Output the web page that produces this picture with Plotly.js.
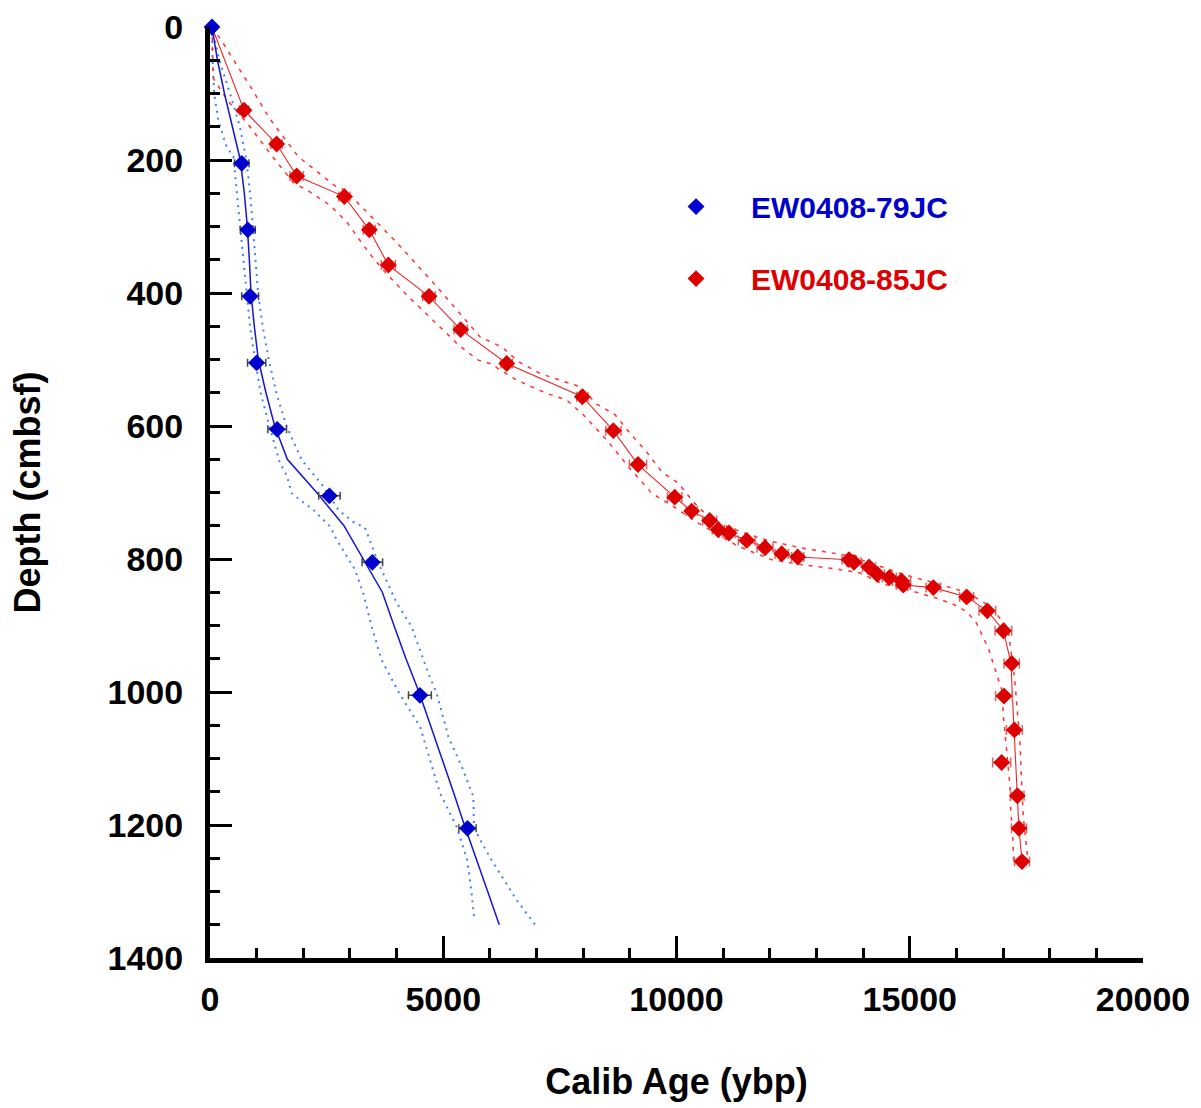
<!DOCTYPE html>
<html>
<head>
<meta charset="utf-8">
<script src="https://cdn.plot.ly/plotly-3.0.1.min.js"></script>
<style>html,body{margin:0;padding:0;background:#fff;}#chart{width:1201px;height:1108px;}</style>
</head>
<body>
<div id="chart"></div>
<script>
// ---- EW0408-79JC (blue) ----
const blueAge   = [43, 680, 810, 860, 1000, 1440, 2560, 3480, 4500, 5520];
const blueDepth = [0, 205, 305, 405, 505, 605, 705, 805, 1005, 1205];
const blueErr   = [30, 155, 160, 180, 195, 200, 230, 220, 245, 185];

const blueModelDepth = [0,50,100,150,200,250,300,350,400,450,500,550,600,650,700,750,800,850,900,950,1000,1050,1100,1150,1200,1250,1300,1350];
const blueModelAge   = [43,160,310,480,650,736,800,843,879,950,1036,1200,1387,1658,2287,2872,3287,3694,3944,4201,4480,4730,4973,5216,5452,5695,5953,6201];

const blueOldDepth = [0,50,100,150,200,250,300,350,400,450,500,550,600,651,691,726,744,753,781,806,866,902,972,1002,1067,1112,1157,1203,1222,1253,1313,1353];
const blueOldAge   = [43,200,430,640,780,860,920,975,1030,1130,1260,1420,1640,1965,2430,2751,3065,3323,3466,3609,4002,4323,4681,4859,5109,5395,5645,5659,5788,6038,6574,7003];

const blueYoungDepth = [0,50,100,140,165,180,195,250,300,350,400,450,500,550,600,656,674,701,711,726,751,771,816,852,902,952,1002,1052,1102,1152,1203,1253,1303,1343];
const blueYoungAge   = [43,55,90,178,286,357,500,575,643,715,786,857,965,1086,1272,1500,1643,1751,1929,2215,2572,2715,3108,3287,3466,3680,4058,4502,4716,4930,5288,5516,5609,5666];

// ---- EW0408-85JC (red) ----
const redAge   = [729,1429,1858,2880,3415,3823,4695,5373,6360,7981,8646,9175,9961,10325,10711,10897,11125,11505,11897,12255,12598,13698,13805,14127,14305,14563,14826,14862,15506,16220,16663,17008,17186,17020,17242,16970,17306,17342,17406];
const redDepth = [125,176,224,255,305,358,405,455,506,556,607,658,707,728,742,756,761,772,783,792,797,801,805,812,823,828,833,839,843,857,878,908,957,1006,1057,1106,1156,1205,1255];
const redErr   = [100,120,143,120,130,150,135,143,120,120,164,185,153,120,150,130,130,179,171,140,130,150,150,140,150,150,193,150,157,150,179,179,164,179,171,193,143,161,161];

const redModelAge   = [43,729,1429,1858,2880,3415,3823,4695,5373,6360,7981,8646,9175,9961,10325,10711,10897,11125,11505,11897,12255,12598,13698,13805,14127,14305,14563,14826,14862,15506,16220,16663,17006,17170,17200,17235,17263,17292,17342,17413];
const redModelDepth = [0,125,176,224,255,305,358,405,455,506,556,607,658,707,728,742,756,761,772,783,792,797,801,805,812,823,828,833,839,843,857,878,907,957,1006,1057,1106,1157,1207,1258];

const redOldAge   = [43,214,915,1271,1893,2680,2894,3215,4002,4930,5788,6253,6609,7074,7931,8289,8682,9003,9361,9683,10039,10360,10718,11147,11576,12004,12647,13698,14148,14898,15541,16249,16720,17106,17256,17292,17363,17399,17434,17507,17535];
const redOldDepth = [0,17,95,137,195,239,245,268,324,396,466,481,503,521,541,567,583,611,639,669,686,714,739,753,764,773,783,795,806,824,836,851,871,904,985,1017,1077,1137,1188,1235,1255];

const redYoungAge   = [43,71,371,857,1286,1786,2144,2572,2930,3359,3681,4216,4930,5323,5751,6002,6574,7217,7646,8002,8504,9003,9468,9931,10467,11325,12041,12647,13434,13939,14399,15042,15578,15934,16222,16435,16684,16791,16972,17005,17042,17112,17149,17164,17207,17220,17230];
const redYoungDepth = [0,77,110,150,190,234,248,268,293,335,363,403,451,478,501,506,531,551,561,583,621,664,701,721,746,781,801,808,815,821,837,848,859,868,879,897,934,957,997,1034,1062,1112,1142,1177,1212,1242,1255];

const seriesNames = ['EW0408-79JC', 'EW0408-85JC'];
const xTicks = [0, 5000, 10000, 15000, 20000];
const yTicks = [0, 200, 400, 600, 800, 1000, 1200, 1400];

const FONT = '"Liberation Sans", Arial, Helvetica, sans-serif';
const BLUE = '#0000cc', RED = '#dd0000';

function line(x, y, color, width, dash) {
  return {x: x, y: y, type: 'scatter', mode: 'lines', showlegend: false, hoverinfo: 'skip',
          line: {color: color, width: width, dash: dash}, cliponaxis: false};
}

const traces = [
  line(blueOldAge, blueOldDepth, '#3f7fff', 2, '2px,5px'),
  line(blueYoungAge, blueYoungDepth, '#3f7fff', 2, '2px,5px'),
  line(redOldAge, redOldDepth, '#ff3333', 1.5, '4px,6px'),
  line(redYoungAge, redYoungDepth, '#ff3333', 1.5, '4px,6px'),
  line(blueModelAge, blueModelDepth, '#1515d0', 1.5, 'solid'),
  line(redModelAge, redModelDepth, '#e52828', 1.1, 'solid'),
  {x: redAge, y: redDepth, type: 'scatter', mode: 'markers', name: '<span style="color:' + RED + '">' + seriesNames[1] + '</span>',
   legendgroup: 'b', legendrank: 2, cliponaxis: false,
   marker: {symbol: 'diamond', size: 13, color: RED, line: {width: 0}},
   error_x: {type: 'data', array: redErr, visible: true, color: '#e86060', thickness: 1.5, width: 5}},
  {x: blueAge, y: blueDepth, type: 'scatter', mode: 'markers', name: '<span style="color:' + BLUE + '">' + seriesNames[0] + '</span>',
   legendgroup: 'a', legendrank: 1, cliponaxis: false,
   marker: {symbol: 'diamond', size: 13, color: BLUE, line: {width: 0}},
   error_x: {type: 'data', array: blueErr, visible: true, color: '#444444', thickness: 1.5, width: 4}}
];

const axisCommon = {
  showline: true, linecolor: '#000', linewidth: 5, mirror: false,
  showgrid: false, zeroline: false, ticks: 'inside', ticklen: 22, tickwidth: 3, tickcolor: '#000',
  tickfont: {family: FONT, size: 34, color: '#000', weight: 'bold'}
};

const layout = {
  width: 1201, height: 1108,
  margin: {l: 210, r: 58, t: 27, b: 150},
  paper_bgcolor: '#fff', plot_bgcolor: '#fff',
  font: {family: FONT},
  showlegend: true,
  legend: {x: 0.462, y: 0.835, xanchor: 'left', yanchor: 'top', bgcolor: 'rgba(0,0,0,0)',
           font: {family: FONT, size: 30, weight: 'bold'}, itemwidth: 100, tracegroupgap: 30,
           traceorder: 'grouped'},
  xaxis: Object.assign({}, axisCommon, {
    range: [0, 20000], tickvals: xTicks, ticktext: xTicks.map(String), ticklabelstandoff: 7,
    minor: {dtick: 1000, ticks: 'inside', ticklen: 10, tickwidth: 3, tickcolor: '#000'},
    title: {text: 'Calib Age (ybp)', font: {family: FONT, size: 36, color: '#000', weight: 'bold'}, standoff: 54}
  }),
  yaxis: Object.assign({}, axisCommon, {
    range: [1400, 0], tickvals: yTicks, ticktext: yTicks.map(String), ticklabelstandoff: 15,
    minor: {dtick: 50, ticks: 'inside', ticklen: 10, tickwidth: 3, tickcolor: '#000'},
    title: {text: 'Depth (cmbsf)', font: {family: FONT, size: 36, color: '#000', weight: 'bold'}, standoff: 57}
  })
};

Plotly.newPlot('chart', traces, layout, {displayModeBar: false, staticPlot: true});
</script>
</body>
</html>
